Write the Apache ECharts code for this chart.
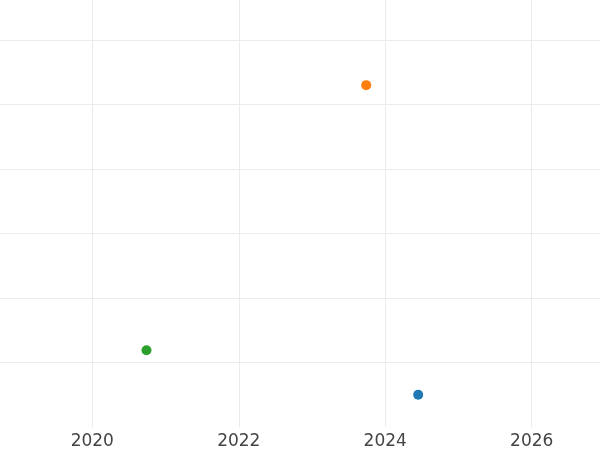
<!DOCTYPE html>
<html>
<head>
<meta charset="utf-8">
<script src="https://cdn.jsdelivr.net/npm/echarts@6/dist/echarts.min.js"></script>
<style>html,body{margin:0;padding:0;background:#fff}#c{width:600px;height:450px}</style>
</head>
<body>
<div id="c"></div>
<script>
const seriesNames = ['A', 'B', 'C'];
const seriesColors = ['#1f77b4', '#ff7f0e', '#2ca02c'];
const xValues = [2024.45, 2023.74, 2020.74];
const yValues = [0.50, 5.30, 1.19];

const chart = echarts.init(document.getElementById('c'), null, {renderer: 'canvas'});
chart.setOption({
  animation: false,
  backgroundColor: '#ffffff',
  grid: {left: -54.2, right: -78.2, top: -24.5, bottom: 23, containLabel: false, outerBoundsMode: 'none'},
  xAxis: {
    type: 'value', min: 2018, max: 2028, interval: 2,
    axisLine: {show: false}, axisTick: {show: false},
    axisLabel: {color: '#444', fontSize: 17, fontFamily: 'DejaVu Sans', margin: 6,
      formatter: v => String(Math.round(v))},
    splitLine: {show: true, lineStyle: {color: '#ebebeb', width: 1}}
  },
  yAxis: {
    type: 'value', min: 0, max: 7, interval: 1,
    axisLine: {show: false}, axisTick: {show: false}, axisLabel: {show: false},
    splitLine: {show: true, showMinLine: false, lineStyle: {color: '#ebebeb', width: 1}}
  },
  series: seriesNames.map((n, i) => ({
    name: n, type: 'scatter', symbolSize: 10,
    itemStyle: {color: seriesColors[i], opacity: 1},
    data: [[xValues[i], yValues[i]]]
  }))
});
</script>
</body>
</html>
